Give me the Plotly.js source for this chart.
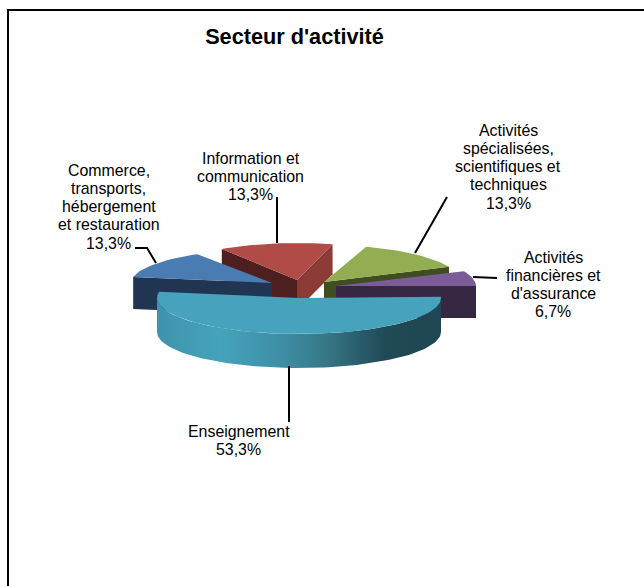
<!DOCTYPE html>
<html><head><meta charset="utf-8">
<script src="https://cdn.plot.ly/plotly-3.0.1.min.js"></script>
<style>html,body{margin:0;padding:0;background:#fff}#c{width:644px;height:586px}</style>
</head><body><div id="c"></div>
<script>
// ---- data ----
const categories = ["Enseignement","Commerce, transports, hébergement et restauration","Information et communication","Activités spécialisées, scientifiques et techniques","Activités financières et d'assurance"];
const values = [53.3,13.3,13.3,13.3,6.7];
const valueLabels = ["53,3%","13,3%","13,3%","13,3%","6,7%"];
const labelLines = [["Enseignement"],["Commerce,","transports,","hébergement","et restauration"],["Information et","communication"],["Activités","spécialisées,","scientifiques et","techniques"],["Activités","financières et","d'assurance"]];
const chartTitle = "Secteur d'activité";

// ---- styles and placement ----
const topColors  = ["#46a2bd","#4a7cb3","#b04b47","#92ad52","#7b5c97"];
const wallColors = [null,"#1f3551",["#4e1f1f","#8c3a35"],"#3f4d20","#362742"];
const tips  = [[299,298],[272,283],[297,280],[324,282],[336,286]];
const radX  = [142,141,138,137,140];
const radY  = [36,34,37,37,36];
const depth = [34,32,30,30,32];
const perspectiveTurn = [-2,-2,-3,0,0];
const labelCx = [238.5,108.5,250.5,508,553];
const labelTop = [431,170,158,130,257];
const leaders = [
  [[289,366],[289,422]],
  [[135,248],[147,248],[156,263]],
  [[277,197],[277,243]],
  [[447,197],[415,253]],
  [[473,277],[497,278]]
];
const lineStep = 18.3;
const font = "'Liberation Sans',Arial,sans-serif";

// ---- wedges computed from the values ----
const total = values.reduce((a,b)=>a+b,0);
let start = 0;
const spans = values.map((v,i)=>{const e=start+v/total*360; const s=[start+perspectiveTurn[i],e+perspectiveTurn[i]]; start=e; return s;});
const pt = (i,a,dy=0)=>[tips[i][0]+radX[i]*Math.cos(a*Math.PI/180), tips[i][1]+radY[i]*Math.sin(a*Math.PI/180)+dy];
const poly = (pts,color,extra={})=>({type:'scatter',mode:'lines',x:pts.map(p=>p[0]).concat(pts[0][0]),y:pts.map(p=>p[1]).concat(pts[0][1]),
  fill:'toself',fillcolor:color,line:{width:0,color:color},hoverinfo:'skip',showlegend:false,...extra});
const arc = (i,a0,a1,dy=0)=>{const n=Math.max(2,Math.ceil(Math.abs(a1-a0)/2));const o=[];for(let k=0;k<=n;k++)o.push(pt(i,a0+(a1-a0)*k/n,dy));return o;};
const edgeWall = (i,a,color)=>{const t=tips[i],c=pt(i,a),d=depth[i];return poly([t,c,[c[0],c[1]+d],[t[0],t[1]+d]],color);};

const traces=[];
// red (back)
traces.push(edgeWall(2,spans[2][0],wallColors[2][0]));
traces.push(edgeWall(2,spans[2][1],wallColors[2][1]));
traces.push(poly([tips[2],...arc(2,spans[2][0],spans[2][1])],topColors[2]));
// green
traces.push(edgeWall(3,spans[3][1],wallColors[3]));
traces.push(poly([tips[3],...arc(3,spans[3][0],spans[3][1])],topColors[3]));
// blue
traces.push(edgeWall(1,spans[1][0],wallColors[1]));
traces.push(poly([tips[1],...arc(1,spans[1][0],spans[1][1])],topColors[1]));
// purple
traces.push(edgeWall(4,spans[4][1],wallColors[4]));
traces.push(poly([tips[4],...arc(4,spans[4][0],spans[4][1])],topColors[4]));
// teal wall with gradient, then its top
const wallPts=[...arc(0,0,180),...arc(0,180,0,depth[0])];
traces.push(poly(wallPts,"#3f8fa8",{fillgradient:{type:'horizontal',colorscale:[[0,"#3f93ac"],[0.22,"#45a3bc"],[0.45,"#3d8da3"],[0.6,"#367685"],[0.8,"#204a57"],[1,"#1f4652"]]}}));
traces.push(poly([tips[0],...arc(0,spans[0][0],spans[0][1])],topColors[0]));
// leader lines
leaders.forEach(l=>traces.push({type:'scatter',mode:'lines',x:l.map(p=>p[0]),y:l.map(p=>p[1]),line:{color:'#000',width:2},hoverinfo:'skip',showlegend:false}));

// labels
const annotations=[];
labelLines.forEach((lines,i)=>{
  lines.concat(valueLabels[i]).forEach((t,k)=>annotations.push({x:labelCx[i],y:labelTop[i]+k*lineStep,text:t,showarrow:false,xanchor:'center',yanchor:'middle',font:{family:font,size:15.9,color:'#000'}}));
});

const layout={width:644,height:586,margin:{l:0,r:0,t:0,b:0,pad:0},paper_bgcolor:'#fff',plot_bgcolor:'#fff',showlegend:false,
  title:{text:chartTitle,x:294.5/644,xanchor:'center',y:1-36/586,yanchor:'middle',font:{family:font,size:21.7,color:'#000',weight:'bold'}},
  xaxis:{range:[0,644],visible:false,fixedrange:true},
  yaxis:{range:[586,0],visible:false,fixedrange:true},
  annotations,
  shapes:[
    {type:'line',x0:7,x1:644,y0:10,y1:10,line:{color:'#000',width:2}},
    {type:'line',x0:8,x1:8,y0:9,y1:586,line:{color:'#000',width:2}}
  ]};
Plotly.newPlot('c',traces,layout,{displayModeBar:false,staticPlot:true});
</script></body></html>
